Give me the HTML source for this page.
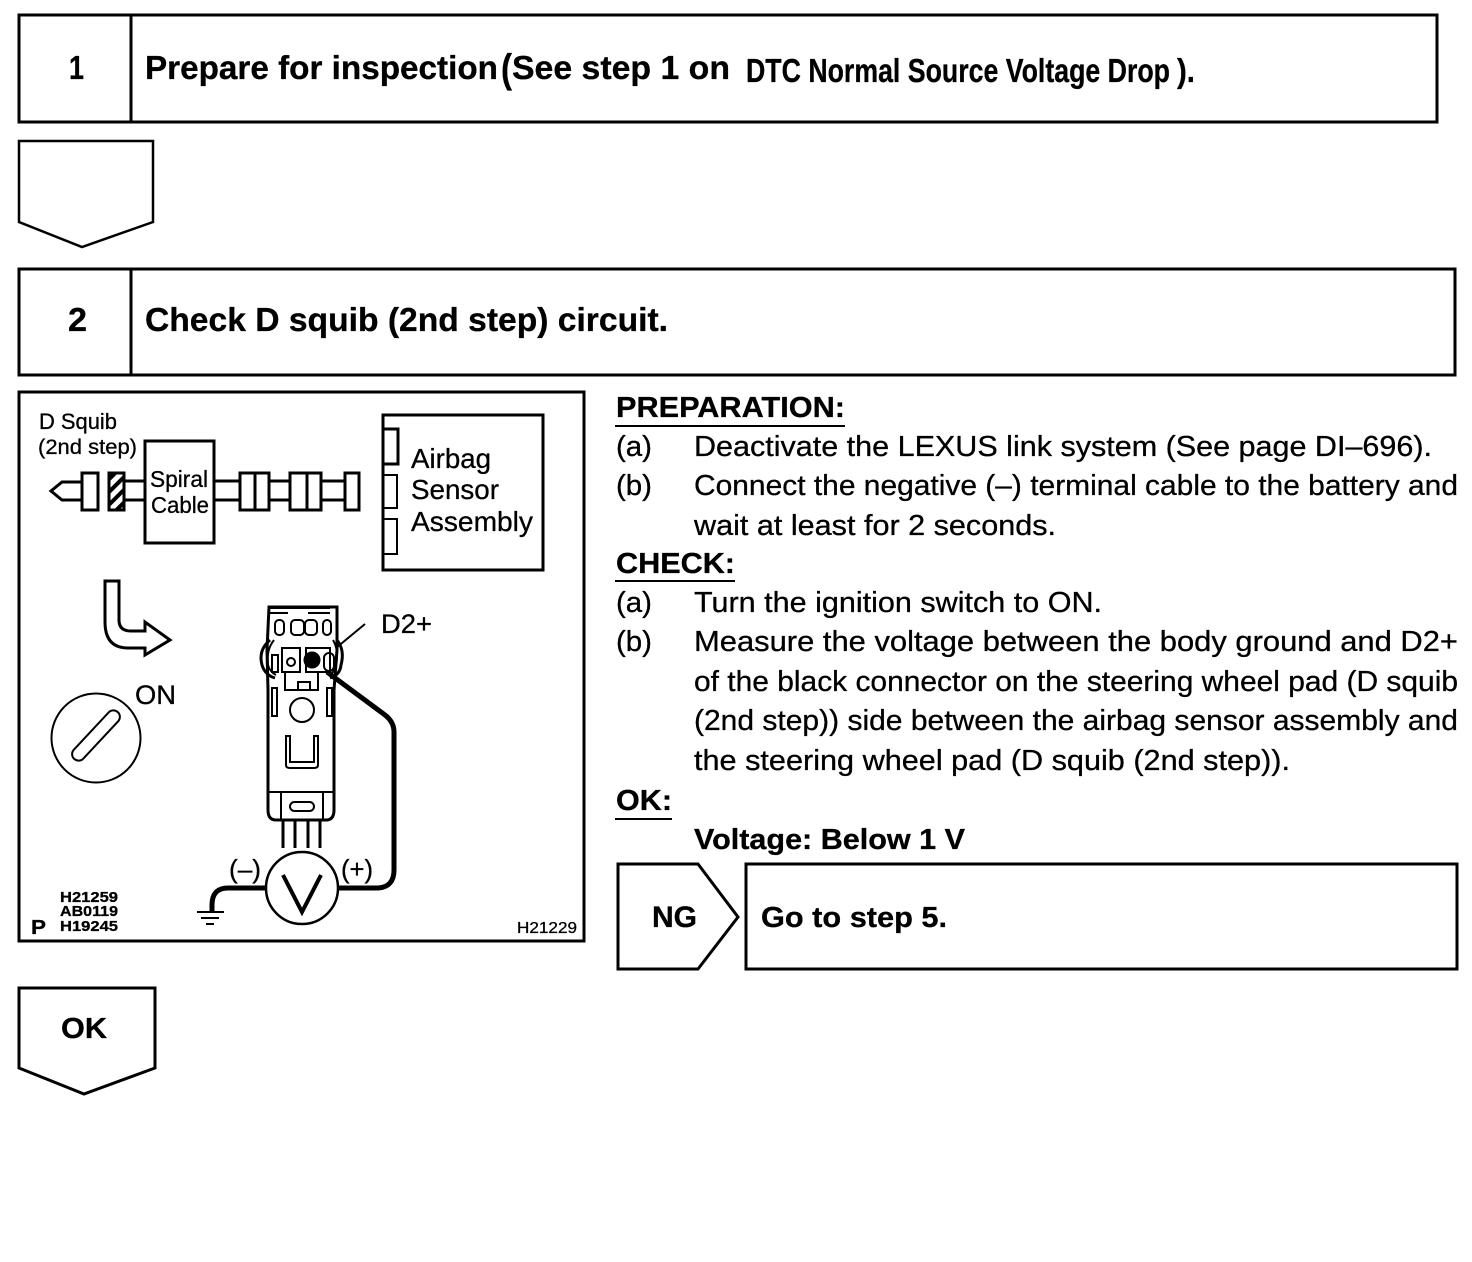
<!DOCTYPE html>
<html><head><meta charset="utf-8"><style>
html,body{margin:0;padding:0;background:#fff;width:1472px;height:1262px;overflow:hidden}
svg{display:block}
text{font-family:"Liberation Sans",sans-serif;fill:#000;stroke:#000;stroke-width:.3px}
.b{font-weight:bold}
.t{font-size:33px;font-weight:bold}
.p{font-size:29px}
</style></head><body>
<svg width="1472" height="1262" viewBox="0 0 1472 1262" xmlns="http://www.w3.org/2000/svg">
<defs><pattern id="h" width="9" height="9" patternUnits="userSpaceOnUse" patternTransform="rotate(45)"><rect width="9" height="9" fill="#fff"/><rect width="4" height="9" fill="#000"/></pattern></defs>
<g fill="none" stroke="#000" stroke-width="3">
<rect x="19" y="15" width="1418" height="107"/><path d="M131 15V122"/>
<path d="M19 141H153V222L82 247L19 222Z" stroke-width="2.5"/>
<rect x="19" y="269" width="1436" height="106"/><path d="M131 269V375"/>
<rect x="19" y="392" width="565" height="549"/>
<path d="M618 864H698L738 917L698 969H618Z"/>
<rect x="746" y="864" width="711" height="105"/>
<path d="M19 988H155V1068L84 1094L19 1068Z"/>
<path d="M615 426H845M615 581H735M615 819H672" stroke-width="2"/>
</g>
<text x="69" y="79" class="t" textLength="15" lengthAdjust="spacingAndGlyphs">1</text>
<text x="145" y="79" class="t" textLength="353" lengthAdjust="spacingAndGlyphs">Prepare for inspection</text>
<text x="501" y="82" class="b" font-size="40" textLength="11" lengthAdjust="spacingAndGlyphs">(</text>
<text x="512" y="79" class="t" textLength="218" lengthAdjust="spacingAndGlyphs">See step 1 on</text>
<text x="746" y="82" class="t" textLength="424" lengthAdjust="spacingAndGlyphs">DTC Normal Source Voltage Drop</text>
<text x="1177" y="82" class="t" textLength="18" lengthAdjust="spacingAndGlyphs">).</text>
<text x="68" y="331" class="t" textLength="19" lengthAdjust="spacingAndGlyphs">2</text>
<text x="145" y="331" class="t" textLength="523" lengthAdjust="spacingAndGlyphs">Check D squib (2nd step) circuit.</text>
<text x="616" y="417" class="p b" textLength="229" lengthAdjust="spacingAndGlyphs">PREPARATION:</text>
<text x="616" y="456" class="p" textLength="36" lengthAdjust="spacingAndGlyphs">(a)</text>
<text x="694" y="456" class="p" textLength="738" lengthAdjust="spacingAndGlyphs">Deactivate the LEXUS link system (See page DI–696).</text>
<text x="616" y="495" class="p" textLength="36" lengthAdjust="spacingAndGlyphs">(b)</text>
<text x="694" y="495" class="p" textLength="764" lengthAdjust="spacingAndGlyphs">Connect the negative (–) terminal cable to the battery and</text>
<text x="694" y="535" class="p" textLength="362" lengthAdjust="spacingAndGlyphs">wait at least for 2 seconds.</text>
<text x="616" y="573" class="p b" textLength="119" lengthAdjust="spacingAndGlyphs">CHECK:</text>
<text x="616" y="612" class="p" textLength="36" lengthAdjust="spacingAndGlyphs">(a)</text>
<text x="694" y="612" class="p" textLength="408" lengthAdjust="spacingAndGlyphs">Turn the ignition switch to ON.</text>
<text x="616" y="651" class="p" textLength="36" lengthAdjust="spacingAndGlyphs">(b)</text>
<text x="694" y="651" class="p" textLength="764" lengthAdjust="spacingAndGlyphs">Measure the voltage between the body ground and D2+</text>
<text x="694" y="691" class="p" textLength="764" lengthAdjust="spacingAndGlyphs">of the black connector on the steering wheel pad (D squib</text>
<text x="694" y="730" class="p" textLength="764" lengthAdjust="spacingAndGlyphs">(2nd step)) side between the airbag sensor assembly and</text>
<text x="694" y="770" class="p" textLength="596" lengthAdjust="spacingAndGlyphs">the steering wheel pad (D squib (2nd step)).</text>
<text x="616" y="810" class="p b" textLength="56" lengthAdjust="spacingAndGlyphs">OK:</text>
<text x="694" y="849" class="p b" textLength="271" lengthAdjust="spacingAndGlyphs">Voltage: Below 1 V</text>
<text x="652" y="927" class="b" font-size="30" textLength="45" lengthAdjust="spacingAndGlyphs">NG</text>
<text x="761" y="927" class="p b" textLength="186" lengthAdjust="spacingAndGlyphs">Go to step 5.</text>
<text x="61" y="1038" class="p b" textLength="46" lengthAdjust="spacingAndGlyphs">OK</text>

<!-- wiring diagram -->
<text x="39" y="429" font-size="22" textLength="78" lengthAdjust="spacingAndGlyphs">D Squib</text>
<text x="38" y="454" font-size="21" textLength="99" lengthAdjust="spacingAndGlyphs">(2nd step)</text>
<g fill="none" stroke="#000" stroke-width="3">
<rect x="145" y="441" width="69" height="102"/>
<path d="M125 481H145M125 500H145M214 481H240M214 500H240M269 481H290M269 500H290M321 481H345M321 500H345"/>
<rect x="82" y="473" width="16" height="37"/>
<rect x="109" y="473" width="15" height="37" fill="url(#h)"/>
<rect x="240" y="473" width="29" height="37"/><path d="M255 473V510"/>
<rect x="290" y="473" width="31" height="37"/><path d="M307 473V510"/>
<rect x="345" y="473" width="14" height="37"/>
<path d="M82 482H62L51 491L62 500H82"/>
<rect x="383" y="415" width="160" height="155"/>
<path d="M383 429H398V464H383" stroke-width="3"/>
<path d="M383 475H397V508H383" stroke-width="2"/>
<path d="M383 519H397V554H383" stroke-width="2"/>
<!-- bent arrow -->
<path d="M105 581H119V620Q119 631 131 631H145V622L170 640L145 655V648H128Q105 648 105 622Z"/>
<!-- key -->
<circle cx="96" cy="738" r="44.5" stroke-width="2"/>
<rect x="64" y="729" width="64" height="13" rx="6.5" transform="rotate(-47 96 735.5)" stroke-width="2"/>
<!-- connector -->
<path d="M269 607H337V650L334 690V810Q334 820 326 820H276Q268 820 268 810V690L267 650Z" stroke-width="3"/>
<rect x="275" y="620" width="9" height="15" rx="4" stroke-width="2"/>
<rect x="291" y="620" width="13" height="15" rx="4" stroke-width="2"/>
<rect x="305" y="620" width="12" height="15" rx="4" stroke-width="2"/>
<rect x="323" y="620" width="8" height="15" rx="4" stroke-width="2"/>
<path d="M268 608H330M270 613H288M308 613H330" stroke-width="2"/>
<path d="M270 640Q258 650 262 665Q265 675 275 678M337 640Q345 650 341 665Q340 675 330 678" stroke-width="3"/>
<path d="M274 640Q266 650 268 665Q270 672 276 675M333 640Q339 650 336 665Q335 672 329 675" stroke-width="2"/>
<path d="M282 648H300V672H282Z M306 648H330V672H306Z" stroke-width="2"/>
<circle cx="291" cy="662" r="4" stroke-width="2"/>
<circle cx="312" cy="660" r="7" fill="#000"/>
<rect x="324" y="653" width="10" height="18" rx="5" stroke-width="2"/>
<path d="M272 655H278V672H272Z" stroke-width="2"/>
<path d="M285 672V690H318V672M298 690V682H310V690" stroke-width="2"/>
<rect x="272" y="688" width="5" height="28" stroke-width="2"/>
<rect x="327" y="688" width="5" height="28" stroke-width="2"/>
<circle cx="302" cy="710" r="12" stroke-width="2"/>
<path d="M286 736V765Q286 768 290 768H314Q318 768 318 765V736H314V762H290V736Z" stroke-width="2"/>
<path d="M268 792H334M281 792V820M323 792V820" stroke-width="2"/>
<rect x="290" y="802" width="24" height="9" rx="4.5" stroke-width="2"/>
<path d="M283 820V848M295 820V848M308 820V848M320 820V848" stroke-width="3"/>
<circle cx="302" cy="888" r="36" stroke-width="2.5"/>
<path d="M283 875L302 912L321 875" stroke-width="4"/>
<path d="M327 672L385 715Q394 722 394 732V870Q394 887 378 888H338" stroke-width="5"/>
<path d="M266 888H228Q212 888 212 905V912" stroke-width="5"/>
<path d="M197 912H224M201 918H219M206 924H214" stroke-width="2"/>
<path d="M336 648L365 624" stroke-width="2"/>
</g>
<text x="150" y="487" font-size="23" textLength="58" lengthAdjust="spacingAndGlyphs">Spiral</text>
<text x="151" y="513" font-size="23" textLength="58" lengthAdjust="spacingAndGlyphs">Cable</text>
<text x="411" y="468" font-size="28" textLength="80" lengthAdjust="spacingAndGlyphs">Airbag</text>
<text x="411" y="499" font-size="28" textLength="88" lengthAdjust="spacingAndGlyphs">Sensor</text>
<text x="411" y="531" font-size="28" textLength="122" lengthAdjust="spacingAndGlyphs">Assembly</text>
<text x="381" y="633" font-size="27" textLength="51" lengthAdjust="spacingAndGlyphs">D2+</text>
<text x="135" y="704" font-size="27" textLength="41" lengthAdjust="spacingAndGlyphs">ON</text>
<text x="229" y="878" font-size="26" textLength="32" lengthAdjust="spacingAndGlyphs">(–)</text>
<text x="341" y="878" font-size="26" textLength="32" lengthAdjust="spacingAndGlyphs">(+)</text>
<text x="60" y="902" font-size="15" class="b" textLength="58" lengthAdjust="spacingAndGlyphs">H21259</text>
<text x="60" y="916" font-size="15" class="b" textLength="58" lengthAdjust="spacingAndGlyphs">AB0119</text>
<text x="60" y="931" font-size="15" class="b" textLength="58" lengthAdjust="spacingAndGlyphs">H19245</text>
<text x="31" y="934" font-size="20" class="b" textLength="15" lengthAdjust="spacingAndGlyphs">P</text>
<text x="517" y="933" font-size="16" textLength="60" lengthAdjust="spacingAndGlyphs">H21229</text>
</svg>
</body></html>
